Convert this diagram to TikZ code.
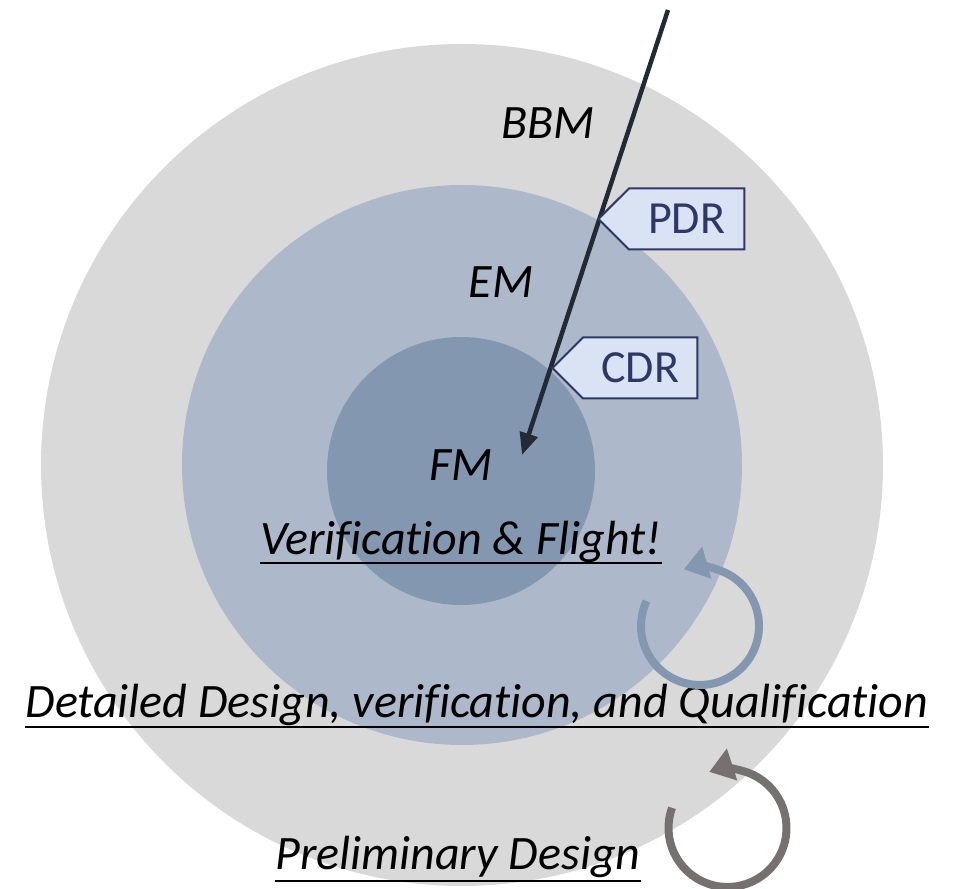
\documentclass[tikz,border=0pt]{standalone}
\usepackage{fontspec}
\setmainfont{Carlito}[Ligatures={NoCommon}]
\usetikzlibrary{arrows.meta,shapes.symbols}
\definecolor{outerc}{HTML}{D9D9D9}
\definecolor{midc}{HTML}{ADB9CA}
\definecolor{innerc}{HTML}{8497B0}
\definecolor{darkarrow}{HTML}{222A35}
\definecolor{tagfill}{HTML}{DAE3F3}
\definecolor{tagline}{HTML}{2F3766}
\definecolor{loopgray}{HTML}{767171}
\tikzset{
  ring/.style={circle, inner sep=0pt},
  lbl/.style={inner sep=0pt, anchor=base, font=\fontsize{48}{52}\selectfont\itshape},
  uline/.style={line width=2.5pt, black},
  tagbox/.style={signal, signal to=west, signal from=nowhere, signal pointer angle=90,
     draw=tagline, line width=2pt, fill=tagfill, text=tagline, inner sep=0pt,
     minimum width=146pt, minimum height=61pt, anchor=west,
     font=\fontsize{46}{50}\selectfont},
  mainarrow/.style={line width=4.5pt, darkarrow, -{Triangle[length=22pt,width=18pt]}},
  loop/.style={line width=8pt, -{Triangle[length=24pt,width=32pt]}}
}
\begin{document}
\begin{tikzpicture}[x=1pt,y=1pt]
\useasboundingbox (0,0) rectangle (956,889);
\node[ring, fill=outerc, minimum size=842pt] (outer) at (462,424) {};
\node[ring, fill=midc, minimum size=560pt] (middle) at (462,424) {};
\node[ring, fill=innerc, minimum size=268pt] (inner) at (461,418) {};

\node[lbl] (bbm) at (548,750) {BBM};
\node[lbl] (em) at (501,591) {EM};
\node[lbl] (fm) at (461,408) {FM};

\node[lbl] (vf) at (461,334) {Verification \& Flight!};
\draw[uline] ([yshift=-8pt]vf.base west) -- ([yshift=-8pt]vf.base east);
\node[lbl] (dd) at (477,171) {Detailed Design, verification, and Qualification};
\draw[uline] ([yshift=-9pt]dd.base west) -- ([yshift=-9pt]dd.base east);
\node[lbl] (pd) at (458,19) {Preliminary Design};
\draw[uline] ([yshift=-11pt]pd.base west) -- ([yshift=-11pt]pd.base east);

\coordinate (astart) at (668,879);
\coordinate (aend) at (522,434);
\draw[mainarrow] (astart) -- (aend);

\node[tagbox] (pdr) at (597,670) {PDR};
\node[tagbox, minimum width=145pt] (cdr) at (551,521) {CDR};

\coordinate (c1) at (700,263);
\draw[loop, innerc] ([shift={(155:59)}]c1) arc[start angle=155, end angle=466, radius=59];
\coordinate (c2) at (727.5,61);
\draw[loop, loopgray] ([shift={(160:59)}]c2) arc[start angle=160, end angle=468, radius=59];
\end{tikzpicture}
\end{document}
